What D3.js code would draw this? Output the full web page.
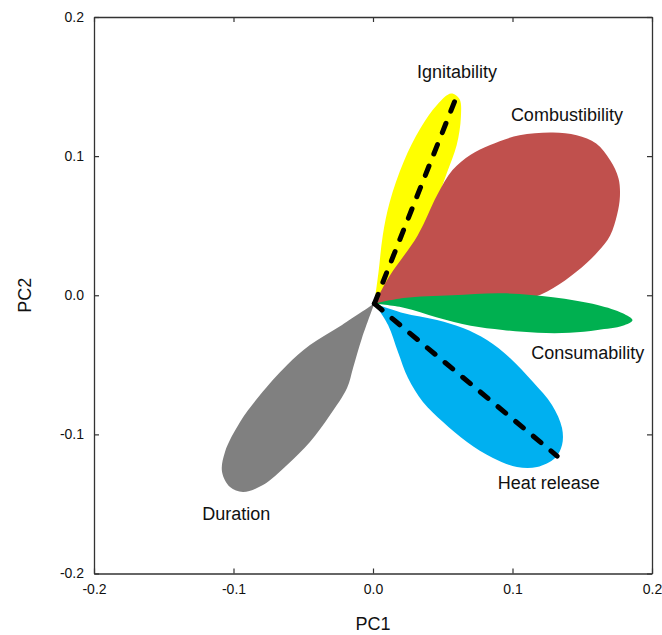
<!DOCTYPE html>
<html>
<head>
<meta charset="utf-8">
<script src="https://cdn.jsdelivr.net/npm/d3@7"></script>
<style>
  html, body { margin: 0; padding: 0; background: #fff; }
  svg { display: block; font-family: "Liberation Sans", Arial, sans-serif; }
</style>
</head>
<body>
<div id="chart"></div>
<script>
// Axis ticks
const xTicks = [-0.2, -0.1, 0.0, 0.1, 0.2];
const yTicks = [-0.2, -0.1, 0.0, 0.1, 0.2];

// Petal outlines (PC1, PC2); each starts and ends at the origin
const ignitability = [[0.001,-0.006],[0.004,0.017],[0.007,0.043],[0.012,0.067],[0.022,0.096],[0.034,0.120],[0.046,0.137],[0.056,0.145],[0.062,0.141],[0.063,0.128],[0.060,0.108],[0.053,0.088],[0.042,0.058],[0.027,0.025],[0.012,0.004],[0.001,-0.006]];
const combustibility = [[0.001,-0.006],[0.012,0.014],[0.032,0.043],[0.046,0.072],[0.057,0.090],[0.070,0.101],[0.084,0.108],[0.105,0.115],[0.129,0.117],[0.146,0.115],[0.160,0.109],[0.170,0.097],[0.176,0.084],[0.177,0.071],[0.175,0.058],[0.170,0.043],[0.161,0.031],[0.146,0.017],[0.129,0.005],[0.113,-0.002],[0.070,-0.005],[0.034,-0.0065],[0.001,-0.006]];
const heatRelease = [[0.001,-0.006],[0.0215,-0.0128],[0.0459,-0.0178],[0.0645,-0.0236],[0.0817,-0.0322],[0.0982,-0.0451],[0.1147,-0.0624],[0.1283,-0.0789],[0.1355,-0.0955],[0.1355,-0.1077],[0.1305,-0.1170],[0.1176,-0.1235],[0.1032,-0.1235],[0.0860,-0.1170],[0.0674,-0.1055],[0.0502,-0.0911],[0.0358,-0.0767],[0.0251,-0.0595],[0.0179,-0.0408],[0.0108,-0.0214],[0.001,-0.006]];
const consumability = [[0.001,-0.006],[0.022,-0.002],[0.057,0.000],[0.093,0.0014],[0.129,-0.0014],[0.161,-0.007],[0.179,-0.013],[0.186,-0.018],[0.179,-0.022],[0.161,-0.025],[0.141,-0.027],[0.118,-0.027],[0.093,-0.025],[0.070,-0.022],[0.046,-0.016],[0.022,-0.009],[0.001,-0.006]];
const duration = [[0.001,-0.006],[-0.0222,-0.0213],[-0.0452,-0.0358],[-0.0616,-0.0501],[-0.0810,-0.0717],[-0.0953,-0.0911],[-0.1061,-0.1126],[-0.1082,-0.1270],[-0.1025,-0.1378],[-0.0932,-0.1414],[-0.0789,-0.1364],[-0.0616,-0.1220],[-0.0452,-0.1055],[-0.0308,-0.0861],[-0.0186,-0.0667],[-0.0143,-0.0523],[-0.0079,-0.0308],[0.001,-0.006]];

// Dashed loading vectors
const vectorTips = [[0.0588, 0.140], [0.132, -0.1156]];
const vectorOrigin = [0.001, -0.006];

const petals = [
  { name: 'Ignitability', points: ignitability, color: '#ffff00', label: [0.0602, 0.1604] },
  { name: 'Combustibility', points: combustibility, color: '#c0504d', label: [0.139, 0.130] },
  { name: 'Heat release', points: heatRelease, color: '#00b0f0', label: [0.126, -0.135] },
  { name: 'Consumability', points: consumability, color: '#00b050', label: [0.154, -0.041] },
  { name: 'Duration', points: duration, color: '#808080', label: [-0.098, -0.157] }
];

const width = 662;
const height = 635;
const margin = { top: 17, right: 10, bottom: 61.5, left: 94 };

const svg = d3.select('#chart').append('svg')
  .attr('width', width)
  .attr('height', height);

const x = d3.scaleLinear().domain([-0.2, 0.2]).range([margin.left, width - margin.right]);
const y = d3.scaleLinear().domain([-0.2, 0.2]).range([height - margin.bottom, margin.top]);

const fmt = d => d.toFixed(1);

// Petals
const line = d3.line()
  .x(d => x(d[0]))
  .y(d => y(d[1]))
  .curve(d3.curveCatmullRom.alpha(0.5));

svg.append('g')
  .selectAll('path')
  .data(petals)
  .join('path')
  .attr('d', d => line(d.points))
  .attr('fill', d => d.color)
  .attr('stroke', 'none');

// Dashed vectors
svg.append('g')
  .selectAll('line')
  .data(vectorTips)
  .join('line')
  .attr('x1', x(vectorOrigin[0]))
  .attr('y1', y(vectorOrigin[1]))
  .attr('x2', d => x(d[0]))
  .attr('y2', d => y(d[1]))
  .attr('stroke', '#000')
  .attr('stroke-width', 5)
  .attr('stroke-linecap', 'round')
  .attr('stroke-dasharray', '10,13');

// Petal labels
svg.append('g')
  .selectAll('text')
  .data(petals)
  .join('text')
  .attr('x', d => x(d.label[0]))
  .attr('y', d => y(d.label[1]))
  .attr('text-anchor', 'middle')
  .attr('dy', '0.35em')
  .style('font-size', '18px')
  .style('fill', '#111')
  .text(d => d.name);

// Axes, ticks pointing inward
const styleAxis = g => {
  g.select('.domain').attr('stroke', '#333').attr('stroke-width', 1.3);
  g.selectAll('.tick line').attr('stroke', '#333').attr('stroke-width', 1.2);
  g.selectAll('.tick text').style('font-size', '14px').style('fill', '#111')
    .style('font-family', '"Liberation Sans", Arial, sans-serif');
};

svg.append('g')
  .attr('transform', `translate(0,${height - margin.bottom})`)
  .call(d3.axisBottom(x).tickValues(xTicks).tickFormat(fmt).tickSizeInner(-5).tickSizeOuter(0).tickPadding(11))
  .call(styleAxis);

svg.append('g')
  .attr('transform', `translate(0,${margin.top})`)
  .call(d3.axisTop(x).tickValues(xTicks).tickFormat('').tickSizeInner(-5).tickSizeOuter(0))
  .call(styleAxis);

svg.append('g')
  .attr('transform', `translate(${margin.left},0)`)
  .call(d3.axisLeft(y).tickValues(yTicks).tickFormat(fmt).tickSizeInner(-5).tickSizeOuter(0).tickPadding(10))
  .call(styleAxis);

svg.append('g')
  .attr('transform', `translate(${width - margin.right},0)`)
  .call(d3.axisRight(y).tickValues(yTicks).tickFormat('').tickSizeInner(-5).tickSizeOuter(0))
  .call(styleAxis);

// Axis titles
svg.append('text')
  .attr('x', x(0))
  .attr('y', 624)
  .attr('dy', '0.35em')
  .attr('text-anchor', 'middle')
  .style('font-size', '18px')
  .style('fill', '#111')
  .text('PC1');

svg.append('text')
  .attr('transform', `translate(25,${y(0)}) rotate(-90)`)
  .attr('dy', '0.35em')
  .attr('text-anchor', 'middle')
  .style('font-size', '18px')
  .style('fill', '#111')
  .text('PC2');
</script>
</body>
</html>
